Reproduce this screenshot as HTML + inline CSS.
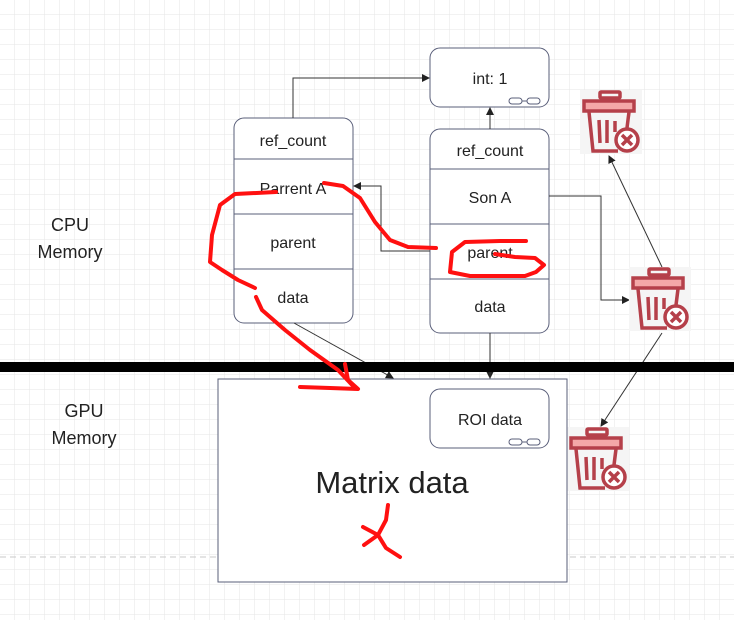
<!DOCTYPE html>
<html><head><meta charset="utf-8"><style>
html,body{margin:0;padding:0;background:#fff}
svg{display:block}
text{font-family:"Liberation Sans",sans-serif;fill:#222}
</style></head><body>
<svg width="734" height="620" viewBox="0 0 734 620" xmlns="http://www.w3.org/2000/svg">
<defs>
<pattern id="g" width="15" height="15" patternUnits="userSpaceOnUse"><path d="M15 0V15H0" fill="none" stroke="#e6e6e6" stroke-width="1"/></pattern>
<marker id="a" markerWidth="8" markerHeight="8" refX="7" refY="4" orient="auto" markerUnits="userSpaceOnUse"><path d="M0 0L8 4L0 8z" fill="#222"/></marker>
<g id="trash">
<rect x="0" y="0" width="62" height="64" fill="#f5f5f5"/>
<rect x="20" y="2" width="20" height="6" rx="1" fill="none" stroke="#b5404a" stroke-width="3.5"/>
<rect x="4" y="11" width="50" height="10" fill="#f4a8a8" stroke="#b5404a" stroke-width="3.5"/>
<path d="M9 22L13 61H38" fill="none" stroke="#b5404a" stroke-width="3.5"/>
<path d="M49 22L47 38" fill="none" stroke="#b5404a" stroke-width="3.5"/>
<path d="M19 30L20 53M27 30L27 53M35 31L35 42" stroke="#b5404a" stroke-width="3.5"/>
<circle cx="47" cy="50" r="11" fill="#fff" stroke="#b5404a" stroke-width="3.5"/>
<path d="M42 45L52 55M52 45L42 55" stroke="#b5404a" stroke-width="3.5"/>
</g>
</defs>
<rect width="734" height="620" fill="url(#g)"/>
<line x1="0" y1="557" x2="734" y2="557" stroke="#c8c8c8" stroke-dasharray="6,4"/>

<text x="70" y="231" font-size="18" text-anchor="middle">CPU</text>
<text x="70" y="258" font-size="18" text-anchor="middle">Memory</text>
<text x="84" y="417" font-size="18" text-anchor="middle">GPU</text>
<text x="84" y="444" font-size="18" text-anchor="middle">Memory</text>

<rect x="430" y="48" width="119" height="59" rx="10" fill="#fff" stroke="#5a5f7a"/>
<text x="490" y="84" font-size="16" text-anchor="middle">int: 1</text>
<rect x="509" y="98" width="13" height="6" rx="3" fill="none" stroke="#5a5f7a"/><rect x="527" y="98" width="13" height="6" rx="3" fill="none" stroke="#5a5f7a"/><line x1="522" y1="101" x2="527" y2="101" stroke="#5a5f7a"/>

<rect x="234" y="118" width="119" height="205" rx="10" fill="#fff" stroke="#5a5f7a"/>
<line x1="234" y1="159" x2="353" y2="159" stroke="#5a5f7a"/>
<line x1="234" y1="214" x2="353" y2="214" stroke="#5a5f7a"/>
<line x1="234" y1="269" x2="353" y2="269" stroke="#5a5f7a"/>
<text x="293" y="146" font-size="16" text-anchor="middle">ref_count</text>
<text x="293" y="194" font-size="16" text-anchor="middle">Parrent A</text>
<text x="293" y="248" font-size="16" text-anchor="middle">parent</text>
<text x="293" y="303" font-size="16" text-anchor="middle">data</text>

<rect x="430" y="129" width="119" height="204" rx="10" fill="#fff" stroke="#5a5f7a"/>
<line x1="430" y1="169" x2="549" y2="169" stroke="#5a5f7a"/>
<line x1="430" y1="224" x2="549" y2="224" stroke="#5a5f7a"/>
<line x1="430" y1="279" x2="549" y2="279" stroke="#5a5f7a"/>
<text x="490" y="156" font-size="16" text-anchor="middle">ref_count</text>
<text x="490" y="203" font-size="16" text-anchor="middle">Son A</text>
<text x="490" y="258" font-size="16" text-anchor="middle">parent</text>
<text x="490" y="312" font-size="16" text-anchor="middle">data</text>

<g fill="none" stroke="#333" stroke-width="1">
<path d="M293 118V78H429" marker-end="url(#a)"/>
<path d="M490 129V108" marker-end="url(#a)"/>
<path d="M430 251H381V186H354" marker-end="url(#a)"/>
<path d="M549 196H601V300H629" marker-end="url(#a)"/>
<path d="M662 267L609 156" marker-end="url(#a)"/>
<path d="M662 333L601 426" marker-end="url(#a)"/>
<path d="M490 333V378" marker-end="url(#a)"/>
<path d="M490 372V388" marker-end="url(#a)"/>
<path d="M294 323L393 378" marker-end="url(#a)"/>
</g>

<use href="#trash" x="580" y="90"/>
<use href="#trash" x="629" y="267"/>
<use href="#trash" x="567" y="427"/>

<rect x="0" y="362" width="734" height="10" fill="#000"/>

<rect x="218" y="379" width="349" height="203" fill="#fff" stroke="#5a5f7a"/>
<rect x="430" y="389" width="119" height="59" rx="10" fill="#fff" stroke="#5a5f7a"/>
<text x="490" y="425" font-size="16" text-anchor="middle">ROI data</text>
<rect x="509" y="439" width="13" height="6" rx="3" fill="none" stroke="#5a5f7a"/><rect x="527" y="439" width="13" height="6" rx="3" fill="none" stroke="#5a5f7a"/><line x1="522" y1="442" x2="527" y2="442" stroke="#5a5f7a"/>
<text x="392" y="493" font-size="31" text-anchor="middle">Matrix data</text>

<g fill="none" stroke="#ff1010" stroke-width="4" stroke-linecap="round" stroke-linejoin="round">
<path d="M276 192L235 194L220 205L212 235L210 262L222 270L238 280L255 288"/>
<path d="M256 297L262 310L285 330L310 350L338 370L355 388"/>
<path d="M345 364L348 380L358 389L330 388L300 387"/>
<path d="M324 183L343 186L360 198L375 222L390 240L408 247L436 248"/>
<path d="M526 241L500 241L465 242L452 252L450 272L470 276L525 276L536 272L544 265L535 258L515 257L495 254"/>
<path d="M388 505L386 520L378 535L363 527M378 535L386 548L400 557M378 535L364 545"/>
</g>
</svg>
</body></html>
